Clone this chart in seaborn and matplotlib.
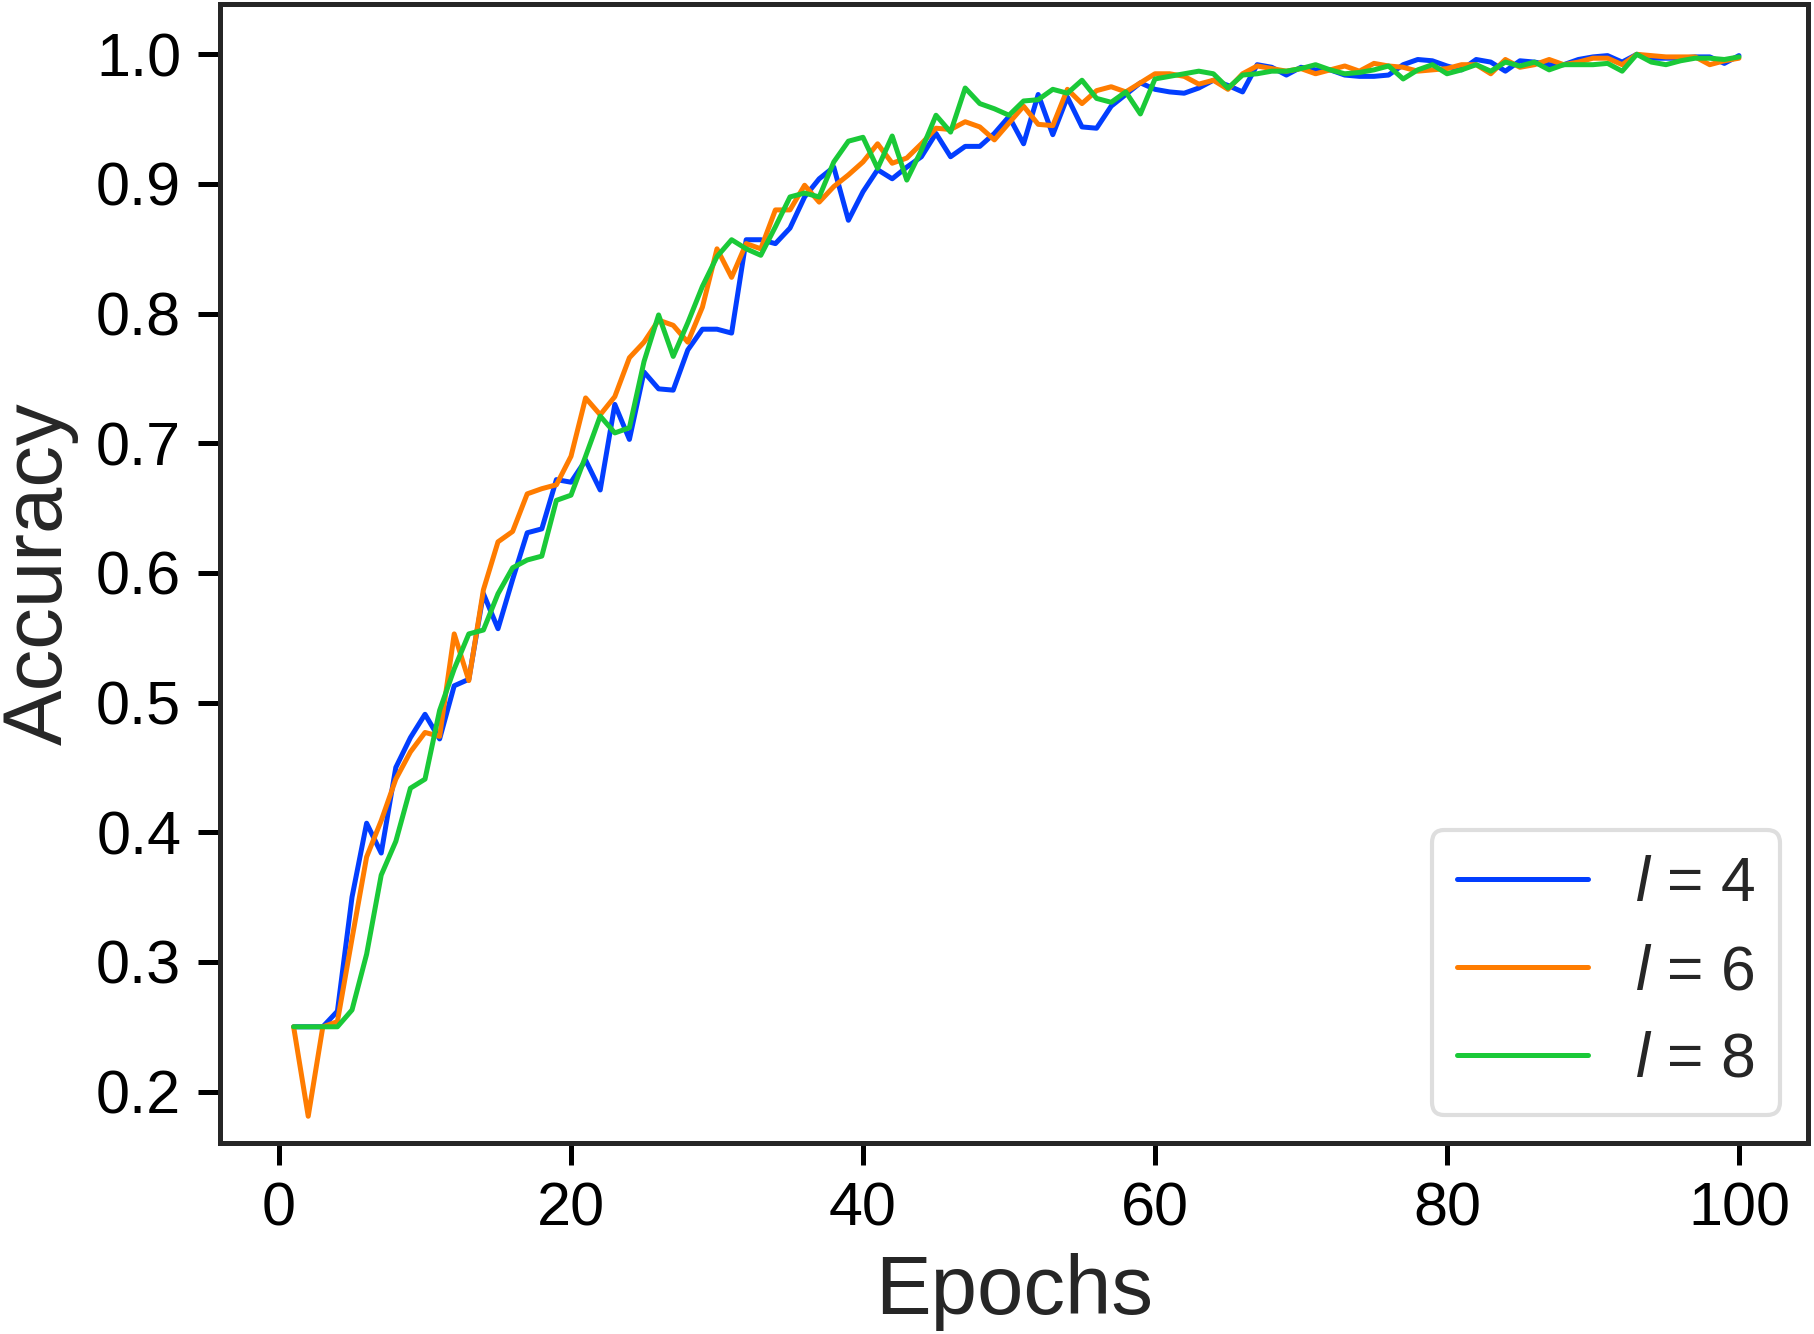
import numpy as np
import pandas as pd
import seaborn as sns
import matplotlib.pyplot as plt

# === Data ===
epochs = list(range(1, 101))

acc_l4 = [
    0.250, 0.250, 0.250, 0.262, 0.350, 0.407, 0.384, 0.450, 0.473, 0.491,
    0.472, 0.513, 0.518, 0.584, 0.557, 0.595, 0.631, 0.634, 0.672, 0.670,
    0.687, 0.664, 0.730, 0.703, 0.755, 0.742, 0.741, 0.772, 0.788, 0.788,
    0.785, 0.857, 0.857, 0.854, 0.866, 0.890, 0.904, 0.913, 0.872, 0.894,
    0.911, 0.904, 0.913, 0.921, 0.939, 0.921, 0.929, 0.929, 0.939, 0.952,
    0.931, 0.969, 0.938, 0.967, 0.944, 0.943, 0.960, 0.969, 0.978, 0.973,
    0.971, 0.970, 0.974, 0.980, 0.976, 0.971, 0.992, 0.990, 0.984, 0.990,
    0.988, 0.988, 0.984, 0.983, 0.983, 0.984, 0.992, 0.996, 0.995, 0.991,
    0.988, 0.996, 0.994, 0.987, 0.995, 0.994, 0.992, 0.992, 0.996, 0.998,
    0.999, 0.994, 1.000, 0.997, 0.997, 0.997, 0.998, 0.998, 0.993, 0.999,
]

acc_l6 = [
    0.250, 0.181, 0.250, 0.254, 0.318, 0.381, 0.409, 0.441, 0.462, 0.477,
    0.474, 0.553, 0.517, 0.587, 0.624, 0.632, 0.661, 0.665, 0.668, 0.690,
    0.735, 0.722, 0.736, 0.766, 0.778, 0.795, 0.791, 0.778, 0.805, 0.850,
    0.828, 0.854, 0.850, 0.880, 0.880, 0.899, 0.886, 0.898, 0.907, 0.917,
    0.931, 0.916, 0.920, 0.931, 0.943, 0.942, 0.948, 0.944, 0.934, 0.947,
    0.960, 0.946, 0.945, 0.973, 0.962, 0.972, 0.975, 0.971, 0.978, 0.985,
    0.985, 0.983, 0.977, 0.980, 0.973, 0.985, 0.991, 0.989, 0.987, 0.989,
    0.985, 0.988, 0.991, 0.987, 0.993, 0.991, 0.990, 0.987, 0.988, 0.989,
    0.992, 0.992, 0.985, 0.996, 0.990, 0.992, 0.996, 0.992, 0.994, 0.997,
    0.997, 0.992, 1.000, 0.999, 0.998, 0.998, 0.998, 0.992, 0.995, 0.997,
]

acc_l8 = [
    0.250, 0.250, 0.250, 0.250, 0.263, 0.306, 0.367, 0.393, 0.434, 0.441,
    0.494, 0.526, 0.553, 0.556, 0.584, 0.604, 0.610, 0.613, 0.656, 0.660,
    0.690, 0.721, 0.708, 0.712, 0.763, 0.799, 0.767, 0.793, 0.821, 0.844,
    0.857, 0.850, 0.845, 0.867, 0.890, 0.893, 0.890, 0.917, 0.933, 0.936,
    0.912, 0.937, 0.903, 0.926, 0.953, 0.940, 0.974, 0.962, 0.958, 0.953,
    0.964, 0.965, 0.973, 0.970, 0.980, 0.966, 0.963, 0.971, 0.954, 0.981,
    0.983, 0.985, 0.987, 0.985, 0.974, 0.984, 0.985, 0.987, 0.987, 0.989,
    0.992, 0.988, 0.985, 0.986, 0.988, 0.991, 0.981, 0.988, 0.992, 0.985,
    0.988, 0.992, 0.987, 0.994, 0.991, 0.994, 0.988, 0.992, 0.992, 0.992,
    0.993, 0.987, 1.000, 0.994, 0.992, 0.995, 0.997, 0.997, 0.996, 0.998,
]

labels = [r"$l$ = 4", r"$l$ = 6", r"$l$ = 8"]

# === Long-form table for seaborn ===
df = pd.concat([
    pd.DataFrame({"Epochs": epochs, "Accuracy": acc, "model": lab})
    for acc, lab in zip([acc_l4, acc_l6, acc_l8], labels)
])

# === Style ===
sns.set_theme(style="ticks", palette="bright")
plt.rcParams["font.family"] = ["Liberation Sans", "DejaVu Sans"]
plt.rcParams["mathtext.fontset"] = "custom"
plt.rcParams["mathtext.rm"] = "Liberation Sans"
plt.rcParams["mathtext.it"] = "Liberation Sans:italic"

fig = plt.figure(figsize=(18.14, 13.34), dpi=100)
ax = fig.add_axes([0.1213, 0.1432, 0.8754, 0.8538])

sns.lineplot(data=df, x="Epochs", y="Accuracy", hue="model",
             palette=sns.color_palette("bright", 3), linewidth=3.6, ax=ax)

ax.set_xlim(-4.04, 104.73)
ax.set_ylim(0.1604, 1.0388)
ax.set_xticks([0, 20, 40, 60, 80, 100])
ax.set_yticks(np.arange(0.2, 1.01, 0.1))
ax.yaxis.set_major_formatter(plt.FormatStrFormatter("%.1f"))

ax.set_xlabel("Epochs", fontsize=60, labelpad=10)
ax.set_ylabel("Accuracy", fontsize=60, labelpad=12)
ax.tick_params(axis="both", labelsize=44, length=16, width=3.6, pad=12,
               colors="black", labelcolor="black")
for side in ["top", "right", "bottom", "left"]:
    ax.spines[side].set_linewidth(3.6)
    ax.spines[side].set_color("#262626")

# === Legend ===
handles, labs = ax.get_legend_handles_labels()
leg = ax.legend(handles, labs, loc="lower right", fontsize=45,
                frameon=True, fancybox=True, handlelength=2.1,
                handletextpad=0.75, labelspacing=0.46, borderpad=0.4,
                borderaxespad=0.45)
leg.get_frame().set_edgecolor("#d6d6d6")
leg.get_frame().set_linewidth(3.0)
for h in leg.legend_handles:
    h.set_linewidth(3.6)

fig.savefig("out.png", dpi=100)
